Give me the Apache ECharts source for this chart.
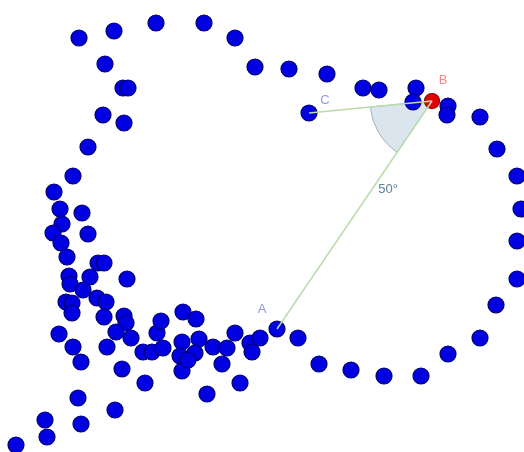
<!DOCTYPE html>
<html>
<head>
<meta charset="utf-8">
<script src="https://cdn.jsdelivr.net/npm/echarts@6/dist/echarts.min.js"></script>
<style>
  html, body { margin: 0; padding: 0; background: #fff; }
  #chart { width: 524px; height: 452px; }
</style>
</head>
<body>
<div id="chart"></div>
<script>
// point cloud (x, y), y grows downward
var dotsX = [79, 114, 156, 204, 235, 255, 289, 327, 363, 379, 416, 413, 448, 447, 480, 497, 517, 521, 517, 517,
  496, 480, 448, 421, 384, 351, 319, 298, 277, 309,
  105, 123, 128, 103, 124, 88, 73, 54, 60, 82, 62, 53, 88, 61, 67, 98, 104, 69, 90, 127,
  70, 83, 97, 106, 66, 72, 72, 104, 124, 126, 116, 131, 59, 73, 107, 143, 152, 81, 122, 157,
  161, 183, 196, 163, 182, 199, 180, 195, 213, 227, 222, 182, 235, 250, 260, 252, 145, 240, 207, 78,
  115, 45, 81, 47, 16, 188];
var dotsY = [38, 31, 23, 23, 38, 67, 69, 74, 88, 90, 88, 102, 106, 115, 117, 149, 176, 209, 241, 279,
  305, 338, 354, 376, 376, 370, 364, 338, 329, 113,
  64, 88, 88, 115, 123, 147, 176, 192, 209, 213, 224, 233, 234, 243, 257, 263, 263, 276, 277, 279,
  284, 290, 298, 302, 302, 303, 313, 317, 316, 323, 332, 338, 334, 347, 347, 352, 352, 362, 369, 333,
  321, 312, 319, 348, 342, 339, 356, 353, 347, 348, 364, 371, 333, 343, 338, 352, 383, 383, 394, 398,
  410, 420, 424, 437, 445, 360];

// named points of the angle
var pointNames = ['A', 'B', 'C'];
var pointA = [277, 329];
var pointB = [432, 101];
var pointC = [309, 113];
var angleLabel = '50°';

var dots = dotsX.map(function (x, i) { return [x, dotsY[i]]; });

var myChart = echarts.init(document.getElementById('chart'));
myChart.setOption({
    backgroundColor: '#fff',
    animation: false,
    grid: { left: 0, right: 0, top: 0, bottom: 0 },
    xAxis: { type: 'value', min: 0, max: 524, show: false },
    yAxis: { type: 'value', min: 0, max: 452, inverse: true, show: false },
    series: [
        {
            // angle wedge at B
            type: 'custom',
            data: [pointB],
            renderItem: function (params, api) {
                var b = api.coord(pointB);
                var a = api.coord(pointA);
                var c = api.coord(pointC);
                var angA = Math.atan2(a[1] - b[1], a[0] - b[0]);
                var angC = Math.atan2(c[1] - b[1], c[0] - b[0]);
                var ux = (a[0] - b[0]), uy = (a[1] - b[1]);
                return {
                    type: 'group',
                    children: [{
                        type: 'sector',
                        shape: { cx: b[0], cy: b[1], r0: 0, r: 62, startAngle: angA, endAngle: angC, clockwise: true },
                        style: { fill: 'rgba(205,220,232,0.75)', stroke: '#9fb3c4', lineWidth: 1 }
                    }, {
                        type: 'text',
                        style: {
                            text: angleLabel,
                            x: b[0] + ux * 0.36 + 12,
                            y: b[1] + uy * 0.36 + 6,
                            align: 'center',
                            verticalAlign: 'middle',
                            fill: '#5a82a0',
                            font: '13px "Liberation Sans", Arial, sans-serif'
                        }
                    }]
                };
            }
        },
        {
            // segments C-B-A
            type: 'line',
            data: [pointC, pointB, pointA],
            showSymbol: false,
            lineStyle: { color: '#b9dcaa', width: 1.5 },
            silent: true
        },
        {
            type: 'scatter',
            data: dots,
            symbolSize: 16,
            itemStyle: { color: '#0000e0', borderColor: '#000070', borderWidth: 1.2, opacity: 1 }
        },
        {
            type: 'scatter',
            data: [pointB],
            symbolSize: 15,
            itemStyle: { color: '#e80000', borderColor: '#8a0000', borderWidth: 1.2, opacity: 1 }
        },
        {
            // point names
            type: 'scatter',
            symbolSize: 0,
            data: [
                { name: pointNames[0], value: pointA, label: { offset: [-15, -20], color: '#7b7bef' } },
                { name: pointNames[1], value: pointB, label: { offset: [11, -21], color: '#f06a6a' } },
                { name: pointNames[2], value: pointC, label: { offset: [16, -13], color: '#7b7bef' } }
            ],
            label: {
                show: true,
                position: 'inside',
                formatter: '{b}',
                fontSize: 13,
                fontFamily: '"Liberation Sans", Arial, sans-serif'
            }
        }
    ]
});
window.onresize = myChart.resize;
</script>
</body>
</html>
